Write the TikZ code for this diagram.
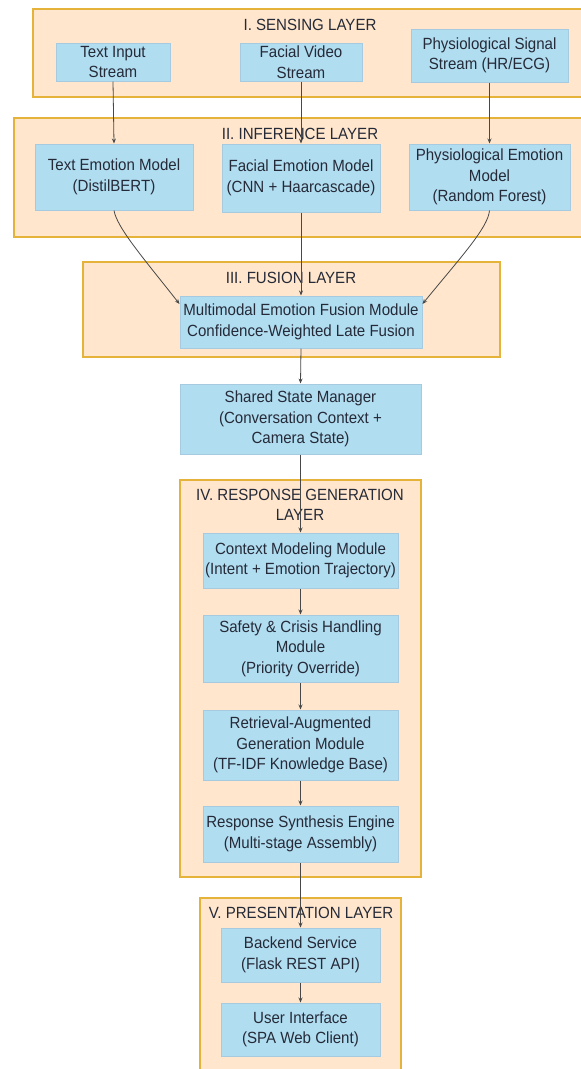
\documentclass[tikz,border=0pt]{standalone}
\usepackage{fontspec}
\setmainfont{Liberation Sans}[FakeStretch=0.93]
\usetikzlibrary{arrows.meta}
\definecolor{clfill}{HTML}{FFE6CC}
\definecolor{clline}{HTML}{E6B33A}
\definecolor{bxfill}{HTML}{B1DDF0}
\definecolor{bxline}{HTML}{A6CBE0}
\definecolor{txt}{HTML}{252A38}
\definecolor{arr}{HTML}{484848}
\tikzset{
  layer/.style={draw=clline, fill=clfill, line width=1.2pt},
  ltitle/.style={text=txt, font=\fontsize{16.2}{20.5}\selectfont, align=center, inner sep=0pt},
  box/.style={draw=bxline, fill=bxfill, line width=1pt, align=center, text=txt,
    font=\fontsize{16.2}{20.5}\selectfont, inner sep=0pt},
  conn/.style={draw=arr, line width=0.8pt, -{Stealth[length=5pt,width=4pt]}}
}
\begin{document}
\begin{tikzpicture}[x=1pt,y=-1pt]
\useasboundingbox (0,0) rectangle (581,1069);
\clip (0,0) rectangle (581,1069);
\fill[white] (0,0) rectangle (581,1069);
% layers
\draw[layer] (33,9) rectangle (587,97);
\draw[layer] (14,118) rectangle (587,237);
\draw[layer] (83,262) rectangle (500,357);
\draw[layer] (180,480) rectangle (421,877);
\draw[layer] (200,898) rectangle (401,1080);
\node[ltitle] (t1) at (310,25) {I. SENSING LAYER};
\node[ltitle] (t2) at (300,134) {II. INFERENCE LAYER};
\node[ltitle] (t3) at (291,278) {III. FUSION LAYER};
\node[ltitle] (t4) at (300,505) {IV. RESPONSE GENERATION\\LAYER};
\node[ltitle] (t5) at (301,913) {V. PRESENTATION LAYER};
% nodes
\node[box, minimum width=114pt, minimum height=38pt] (ti) at (113,62) {Text Input\\Stream};
\node[box, minimum width=122pt, minimum height=38pt] (fv) at (301,62) {Facial Video\\Stream};
\node[box, minimum width=157pt, minimum height=53pt] (ps) at (489.5,55.5) {Physiological Signal\\Stream (HR/ECG)};
\node[box, minimum width=158pt, minimum height=66pt] (te) at (114,177) {Text Emotion Model\\(DistilBERT)};
\node[box, minimum width=158pt, minimum height=68pt] (fe) at (301,178) {Facial Emotion Model\\(CNN + Haarcascade)};
\node[box, minimum width=161pt, minimum height=66pt] (pe) at (489.5,177) {Physiological Emotion\\Model\\(Random Forest)};
\node[box, minimum width=242pt, minimum height=52pt] (fu) at (301,322) {Multimodal Emotion Fusion Module\\Confidence-Weighted Late Fusion};
\node[box, minimum width=241pt, minimum height=70pt] (ss) at (300.5,419) {Shared State Manager\\(Conversation Context +\\Camera State)};
\node[box, minimum width=195pt, minimum height=55pt] (cm) at (300.5,560.5) {Context Modeling Module\\(Intent + Emotion Trajectory)};
\node[box, minimum width=195pt, minimum height=67pt] (sc) at (300.5,648.5) {Safety \& Crisis Handling\\Module\\(Priority Override)};
\node[box, minimum width=195pt, minimum height=70pt] (rg) at (300.5,745) {Retrieval-Augmented\\Generation Module\\(TF-IDF Knowledge Base)};
\node[box, minimum width=195pt, minimum height=56pt] (rs) at (300.5,834) {Response Synthesis Engine\\(Multi-stage Assembly)};
\node[box, minimum width=159pt, minimum height=54pt] (be) at (300.5,955) {Backend Service\\(Flask REST API)};
\node[box, minimum width=159pt, minimum height=53pt] (ui) at (300.5,1029.5) {User Interface\\(SPA Web Client)};
% connectors
\draw[conn] (ti.south) -- (te.north);
\draw[conn] (fv.south) -- (fe.north);
\draw[conn] (ps.south) -- (pe.north);
\draw[conn] (te.south) .. controls (117,228) and (145,260) .. (fu.north west |- 0,304);
\draw[conn] (pe.south) .. controls (488,228) and (460,258) .. (fu.north east |- 0,304);
\draw[conn] (fe.south) -- (fu.north);
\draw[conn] (fu.south) -- (ss.north);
\draw[conn] (ss.south) -- (cm.north);
\draw[conn] (cm.south) -- (sc.north);
\draw[conn] (sc.south) -- (rg.north);
\draw[conn] (rg.south) -- (rs.north);
\draw[conn] (rs.south) -- (be.north);
\draw[conn] (be.south) -- (ui.north);
\end{tikzpicture}
\end{document}
